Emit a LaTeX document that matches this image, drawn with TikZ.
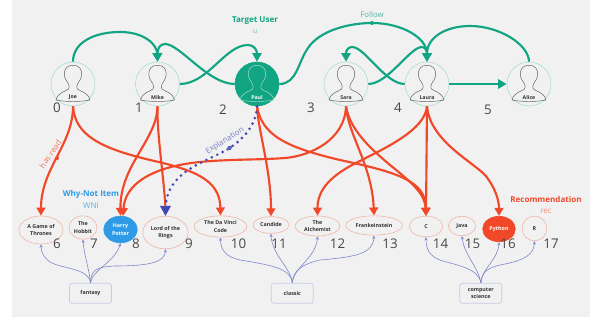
\documentclass[tikz,border=0pt]{standalone}
\usepackage{fontspec}
\setmainfont{Open Sans}
\usetikzlibrary{shapes.geometric,arrows.meta}
\definecolor{grn}{HTML}{12A583}
\definecolor{lgrn}{HTML}{A9DDD0}
\definecolor{rd}{HTML}{F2482A}
\definecolor{lrd}{HTML}{EFBBAC}
\definecolor{blu}{HTML}{2F9BE6}
\definecolor{ind}{HTML}{3F48B5}
\definecolor{lind}{HTML}{7F88CC}
\definecolor{bx}{HTML}{C6CBE8}
\definecolor{bg}{HTML}{F1F1F1}
\definecolor{ink}{HTML}{333333}
\tikzset{
  userc/.style={circle,draw=lgrn,line width=.45pt,minimum size=33pt,inner sep=0pt,fill=bg},
  targetc/.style={userc,draw=grn,fill=grn},
  uname/.style={font=\fontsize{3.9}{4}\selectfont\bfseries,text=ink,inner sep=0pt},
  item/.style={ellipse,draw=lrd,line width=.5pt,inner sep=0pt,align=center,text=ink,font=\fontsize{4}{5.6}\selectfont\bfseries},
  wni/.style={item,draw=blu,fill=blu,text=white},
  recitem/.style={item,draw=rd,fill=rd,text=white},
  catbox/.style={draw=bx,line width=.55pt,rounded corners=2pt,minimum width=31.5pt,minimum height=15pt,inner sep=0pt,align=center,text=ink,font=\fontsize{4}{5.6}\selectfont\bfseries},
  num/.style={font=\fontsize{10}{12}\selectfont,text=ink!90,inner sep=0pt},
  follow/.style={draw=grn,line width=1.6pt,-{Triangle[length=6.5pt,width=7pt]}},
  readedge/.style={draw=rd,line width=1.6pt,-{Triangle[length=6pt,width=6.5pt]}},
  belong/.style={draw=lind,line width=.45pt,-{Stealth[length=2.5pt,width=2.2pt]}},
  explain/.style={draw=ind,line width=2.2pt,dash pattern=on 0pt off 4.5pt,line cap=round},
  person/.pic={\draw[pic actions,line width=.35pt]
     (0,-18.7) .. controls (6,-18.7) and (8.7,-15) .. (8.7,-10)
     .. controls (8.7,-5) and (6,-3) .. (4.5,0)
     .. controls (3.5,2.5) and (3.5,4) .. (4.5,5)
     .. controls (7,7.5) and (15,8) .. (17,16)
     .. controls (8,18) and (-8,18) .. (-17,16)
     .. controls (-15,8) and (-7,7.5) .. (-4.5,5)
     .. controls (-3.5,4) and (-3.5,2.5) .. (-4.5,0)
     .. controls (-6,-3) and (-8.7,-5) .. (-8.7,-10)
     .. controls (-8.7,-15) and (-6,-18.7) .. (0,-18.7) -- cycle;}
}
\begin{document}
\begin{tikzpicture}[x=.75pt,y=-.75pt]
\useasboundingbox (0,0) rectangle (590,320);
\fill[white] (0,0) rectangle (590,320);
\fill[bg] (12,0) rectangle (590,317);
% users
\node[userc] (joe) at (73,84) {};
\node[userc] (mike) at (157.5,84) {};
\node[targetc] (paul) at (257,84) {};
\node[userc] (sara) at (346,84) {};
\node[userc] (laura) at (427,84) {};
\node[userc] (alice) at (529,84) {};
\foreach \n in {joe,mike,sara,laura,alice} \path (\n.center) pic[draw=ink!80] {person};
\path (paul.center) pic[draw=lgrn] {person};
\node[uname] (joel) at (73,97.5) {Joe};
\node[uname] (mikel) at (157.5,97.5) {Mike};
\node[uname,text=white] (paull) at (257,97.5) {Paul};
\node[uname] (saral) at (346,97.5) {Sara};
\node[uname] (laural) at (427,97.5) {Laura};
\node[uname] (alicel) at (529,97.5) {Alice};
% items
\node[item,minimum width=33pt,minimum height=21pt] (got) at (41,230) {A Game of\\Thrones};
\node[item,minimum width=21pt,minimum height=17.5pt] (hob) at (83,227.5) {The\\Hobbit};
\node[wni,minimum width=25pt,minimum height=20pt] (hp) at (120.5,229.5) {Harry\\Potter};
\node[item,minimum width=34pt,minimum height=24.5pt] (lotr) at (165.5,232.5) {Lord of the\\Rings};
\node[item,minimum width=39.5pt,minimum height=16pt] (dv) at (220.5,226.5) {The Da Vinci\\Code};
\node[item,minimum width=27pt,minimum height=12.5pt] (can) at (271,225) {Candide};
\node[item,minimum width=33.5pt,minimum height=15pt] (alc) at (317.5,226) {The\\Alchemist};
\node[item,minimum width=42.5pt,minimum height=14.5pt] (fra) at (374,225.5) {Frankeinstein};
\node[item,minimum width=25pt,minimum height=15.5pt] (cl) at (426,226.5) {C};
\node[item,minimum width=20.5pt,minimum height=14.5pt] (jav) at (462,226) {Java};
\node[recitem,minimum width=24.5pt,minimum height=19pt] (py) at (499,229) {Python};
\node[item,minimum width=18.5pt,minimum height=18.5pt] (rl) at (534.5,228.5) {R};
% categories
\node[catbox] (fan) at (90.5,293.3) {fantasy};
\node[catbox] (cla) at (292.3,293.3) {classic};
\node[catbox] (cs) at (480.8,293.3) {computer\\science};
% numbers
\foreach \t/\x/\y in {0/57/108,1/139/108,2/223/110,3/311/108,4/398/108,5/488/110,6/57/244,7/94/244,8/136/244,9/189/244,10/238.5/244,11/279/244,12/337.5/244,13/390/244,14/440.5/244,15/472.5/244,16/508/244,17/551/244}
  \node[num] (n\t) at (\x,\y) {\t};
% category links
\draw[belong] (fan.north) .. controls (89,268) and (62,269) .. (50,262) .. controls (44,258) and (41,252) .. (got.south);
\draw[belong] (fan.north) .. controls (89,268) and (84,255) .. (hob.south);
\draw[belong] (fan.north) .. controls (92,270) and (115,262) .. (hp.south);
\draw[belong] (fan.north) .. controls (91,269) and (97,267) .. (115,266) .. controls (150,266) and (165,262) .. (lotr.south);
\draw[belong] (cla.north) .. controls (291,268) and (270,265) .. (240,260) .. controls (226,257) and (220.5,250) .. (dv.south);
\draw[belong] (cla.north) .. controls (291,268) and (272,255) .. (can.south);
\draw[belong] (cla.north) .. controls (293,268) and (316,258) .. (alc.south);
\draw[belong] (cla.north) .. controls (293,270) and (303,264) .. (320,260) .. controls (355,257) and (373,254) .. (fra.south);
\draw[belong] (cs.north) .. controls (479,268) and (455,265) .. (440,260) .. controls (430,256) and (426,250) .. (cl.south);
\draw[belong] (cs.north) .. controls (479,268) and (464,255) .. (jav.south);
\draw[belong] (cs.north) .. controls (482,268) and (498,260) .. (py.south);
\draw[belong] (cs.north) .. controls (482,270) and (490,267) .. (505,264) .. controls (525,260) and (534,254) .. (rl.south);
% follows
\draw[follow] (joe.north) .. controls (73,42) and (95,32) .. (120,32) .. controls (145,32) and (157,45) .. (mike.north);
\draw[follow] (mike.east) .. controls (208,84) and (225,45) .. (248,45) .. controls (254,45) and (257,50) .. (paul.north);
\draw[follow] (paul.west) .. controls (208,84) and (180,44) .. (165,44) .. controls (159,44) and (157.5,50) .. (mike.north);
\draw[follow] (paul.east) .. controls (297,84) and (298,62) .. (308,48) .. controls (320,30) and (350,23) .. (372,23) .. controls (402,23) and (427,38) .. (laura.north);
\draw[follow] (sara.east) .. controls (388,84) and (410,47) .. (422,47) .. controls (426,47) and (427,52) .. (laura.north);
\draw[follow] (alice.north) .. controls (529,45) and (500,26) .. (470,26) .. controls (445,26) and (427,38) .. (laura.north);
\draw[follow] (laura.west) .. controls (385,84) and (365,47) .. (352,47) .. controls (347,47) and (346,52) .. (sara.north);
\draw[follow] (laura.east) -- (alice.west);
\node[circle,fill=grn,minimum size=3pt,inner sep=0pt] (followdot) at (372,23) {};
% reads
\draw[readedge] (joe.south) .. controls (73,145) and (41,168) .. (got.north);
\draw[readedge] (joe.south) .. controls (75,135) and (100,148) .. (150,160) .. controls (195,170) and (220,180) .. (dv.north);
\draw[readedge] (mike.south) .. controls (157,140) and (120,165) .. (hp.north);
\draw[readedge] (sara.south) .. controls (345,140) and (310,156) .. (285,158) .. controls (260,160) and (230,159) .. (200,162) .. controls (150,167) and (125,185) .. (123,216);
\draw[readedge] (paul.south) .. controls (258,130) and (271,170) .. (can.north);
\draw[readedge] (paul.south) .. controls (262,135) and (285,147) .. (340,160) .. controls (395,172) and (426,180) .. (cl.north);
\draw[readedge] (sara.south) .. controls (348,135) and (372,165) .. (fra.north);
\draw[readedge] (sara.south) .. controls (350,130) and (370,148) .. (390,165) .. controls (415,185) and (425,195) .. (cl.north);
\draw[readedge] (laura.south) .. controls (425,130) and (385,148) .. (362,160) .. controls (330,175) and (317.5,190) .. (alc.north);
\draw[readedge] (laura.south) -- (cl.north);
\draw[readedge] (laura.south) .. controls (430,140) and (470,160) .. (485,175) .. controls (495,187) and (499,200) .. (py.north);
\node[circle,fill=rd,minimum size=3pt,inner sep=0pt] (readdot) at (57,158) {};
% mike -> lord, explanation
\coordinate (lotrtip) at (165.5,207);
\draw[draw=rd,line width=1.6pt] (mike.south) .. controls (157,135) and (163,170) .. (lotrtip);
\draw[explain] (paul.south) .. controls (256,125) and (245,137) .. (230,148) .. controls (205,163) and (168,170) .. (lotrtip);
\fill[ind] (160,206) -- (171,206) -- (lotr.north) -- cycle;
\node[diamond,fill=ind!85!white,minimum width=6.5pt,minimum height=3.5pt,inner sep=0pt,rotate=32] (expdot) at (229.5,148) {};
% labels
\node[font=\fontsize{6.05}{8}\selectfont\bfseries,text=grn,inner sep=0pt] (tu) at (255,20.5) {Target User};
\node[font=\fontsize{5.4}{6}\selectfont,text=grn!60,inner sep=0pt] (tul) at (255,32) {u};
\node[font=\fontsize{5.8}{7}\selectfont,text=grn!75,inner sep=0pt] (fl) at (372,15) {Follow};
\node[font=\fontsize{5.9}{7}\selectfont,text=ind!70,inner sep=0pt,rotate=32] (ex) at (225,141) {Explanation};
\node[font=\fontsize{6}{7}\selectfont,text=rd!75,inner sep=0pt,rotate=56] (hr) at (50.5,154) {has read};
\node[font=\fontsize{6.05}{8}\selectfont\bfseries,text=blu,inner sep=0pt] (wn) at (91,194.5) {Why-Not Item};
\node[font=\fontsize{6}{7}\selectfont,text=blu!80,inner sep=0pt] (wnl) at (91,206) {WNI};
\node[font=\fontsize{6.05}{8}\selectfont\bfseries,text=rd,inner sep=0pt] (rc) at (546,199) {Recommendation};
\node[font=\fontsize{6}{7}\selectfont,text=rd!60,inner sep=0pt] (rcl) at (546,211) {rec};
\end{tikzpicture}
\end{document}
